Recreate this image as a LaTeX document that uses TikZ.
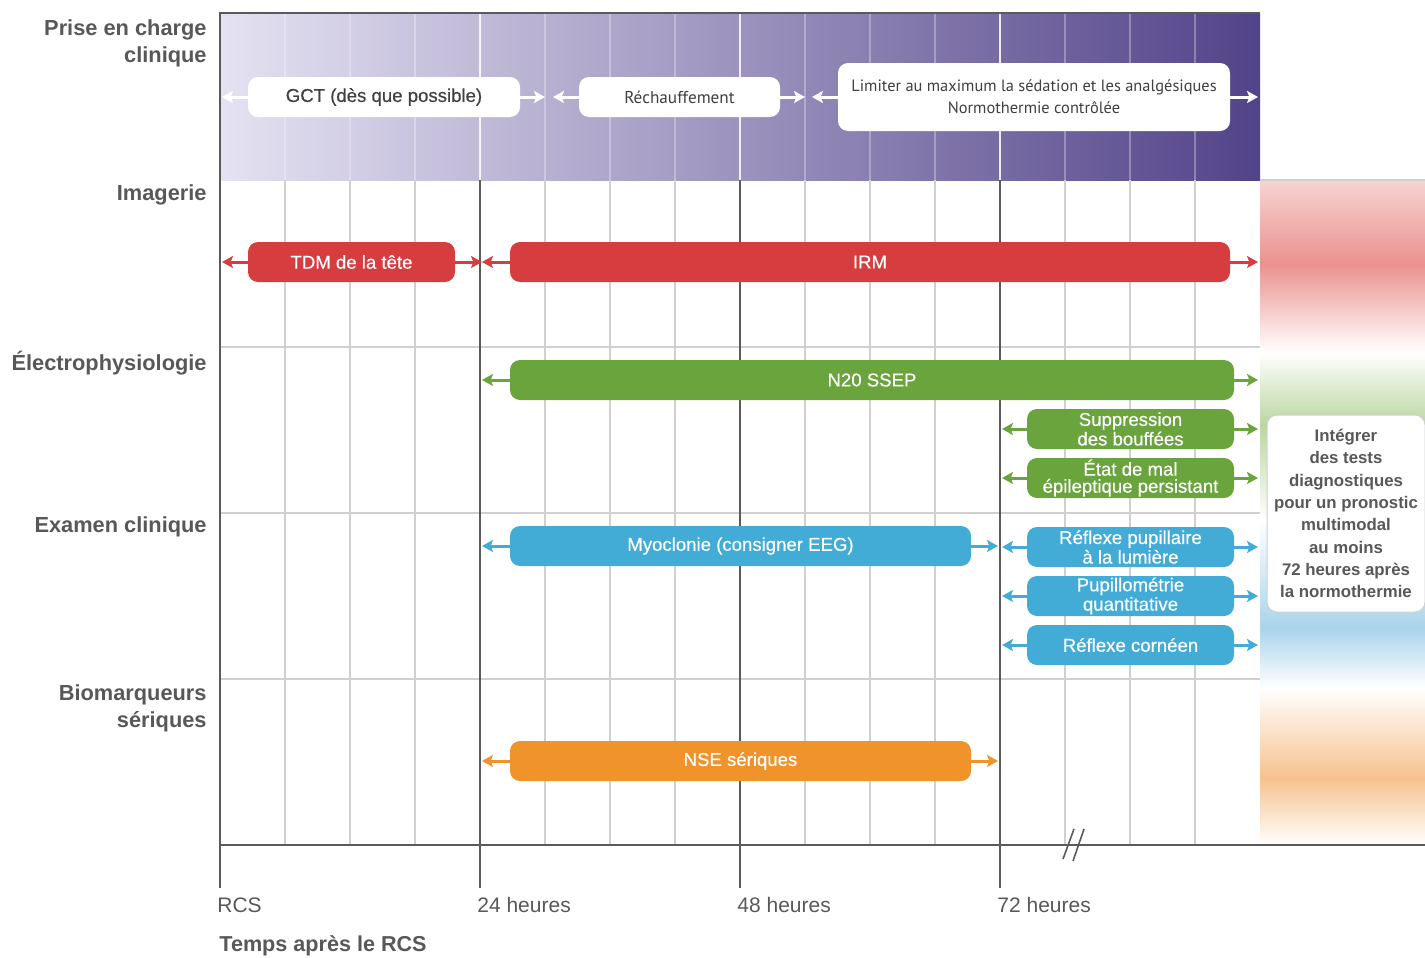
\documentclass[tikz,border=0pt]{standalone}
\usepackage{fontspec}
\setmainfont{Liberation Sans}
\newfontfamily\narrowfont{PT Sans}
\newfontfamily\medfont[FakeBold=0.35]{Liberation Sans}
\usepackage{tikz}
\usetikzlibrary{arrows.meta,positioning}
\usepackage{xcolor}
\definecolor{labgray}   {RGB}{88 , 88, 88}
\definecolor{gridgray}  {RGB}{208,208,208}
\definecolor{axisgray}  {RGB}{90 , 90, 90}
\definecolor{purpL}     {RGB}{229,226,242}
\definecolor{purpR}     {RGB}{82 , 67,137}
\definecolor{barred}    {RGB}{214, 61, 62}
\definecolor{bargreen}  {RGB}{106,164, 60}
\definecolor{barblue}   {RGB}{66 ,172,215}
\definecolor{barorange} {RGB}{240,147, 42}
\definecolor{softred}   {RGB}{234,146,142}
\definecolor{softgreen} {RGB}{186,214,160}
\definecolor{softblue}  {RGB}{170,212,234}
\definecolor{softorange}{RGB}{246,194,142}

\begin{document}
\begin{tikzpicture}[
  x=0.5pt, y=-0.5pt,
  every node/.style={align=center, inner sep=0pt},
  rowlabel/.style={anchor=east, align=right, text=labgray, font=\bfseries\fontsize{10.9}{13.5}\selectfont},
  ticklabel/.style={anchor=west, text=labgray, font=\fontsize{10.5}{12}\selectfont},
  bar/.style={fill=#1, text=white, rounded corners=5pt, minimum height=20pt, font=\medfont\fontsize{9.3}{8.5}\selectfont},
  carebox/.style={fill=white, text=black!75, rounded corners=5pt, minimum height=20pt, font=\medfont\fontsize{9.3}{11}\selectfont},
  span/.style={-{Stealth[length=5.5pt, width=6pt, inset=1.2pt]}, line width=1.5pt, #1},
  minor/.style={gridgray, line width=0.6pt},
  major/.style={axisgray, line width=0.9pt}
]
  \useasboundingbox (0,0) rectangle (1425,958);

  % Background
  \shade[left color=purpL, right color=purpR] (220,13) rectangle (1260,180);
  \shade[top color=softred!40, bottom color=softred] (1260,180) rectangle (1425,264);
  \shade[top color=softred, bottom color=white] (1260,264) rectangle (1425,352);
  \shade[top color=white, bottom color=softgreen] (1260,352) rectangle (1425,425);
  \shade[top color=softgreen, bottom color=white] (1260,425) rectangle (1425,520);
  \shade[top color=white, bottom color=softblue] (1260,520) rectangle (1425,628);
  \shade[top color=softblue, bottom color=white] (1260,628) rectangle (1425,688);
  \shade[top color=white, bottom color=softorange] (1260,688) rectangle (1425,778);
  \shade[top color=softorange, bottom color=white] (1260,778) rectangle (1425,845);

  % Grid
  \foreach \k in {1,...,15} {
    \draw[white, opacity=0.3, line width=0.6pt] (220+65*\k,13) -- (220+65*\k,180);
    \draw[minor] (220+65*\k,180) -- (220+65*\k,845);
  }
  \foreach \y in {347,513,679} \draw[minor] (220,\y) -- (1260,\y);
  \foreach \x in {480,740,1000} {
    \draw[white, opacity=0.8, line width=0.8pt] (\x,13) -- (\x,180);
    \draw[major] (\x,180) -- (\x,888);
  }
  \draw[major] (1260,13) -- (220,13) -- (220,888);
  \draw[minor] (1260,180) -- (1425,180);
  \draw[axisgray, line width=1.1pt] (220,845) -- (1425,845);
  \draw[axisgray, line width=0.8pt] (1063,859) -- (1074,829) (1073,861) -- (1084,829);

  % Arrow ends
  \coordinate (h0)   at (222,0);
  \coordinate (h24)  at (482,0);
  \coordinate (h24b) at (545,0);
  \coordinate (hr)   at (553,0);
  \coordinate (hrb)  at (805,0);
  \coordinate (hl)   at (812,0);
  \coordinate (h48)  at (998,0);
  \coordinate (h72)  at (1002,0);
  \coordinate (hend) at (1258,0);

  % Labels
  \node[rowlabel] (care)  at (207,43)  {Prise en charge\\clinique};
  \node[rowlabel] (imag)  at (207,195) {Imagerie};
  \node[rowlabel] (elec)  at (207,363) {Électrophysiologie};
  \node[rowlabel] (exam)  at (207,527) {Examen clinique};
  \node[rowlabel] (bio)   at (207,708) {Biomarqueurs\\sériques};

  \node[ticklabel] (t0)  at (217,905) {RCS};
  \node[ticklabel] (t24) at (477,905) {24 heures};
  \node[ticklabel] (t48) at (737,905) {48 heures};
  \node[ticklabel] (t72) at (997,905) {72 heures};
  \node[ticklabel, font=\bfseries\fontsize{10.8}{12}\selectfont] (taxis) at (219,946) {Temps après le RCS};

  % Nodes
  \node[carebox, minimum width=136pt] (gct)   at (384,97)    {GCT (dès que possible)};
  \node[carebox, minimum width=100.5pt, font=\narrowfont\fontsize{8.6}{11}\selectfont] (rech) at (679.5,97) {Réchauffement};
  \node[carebox, minimum width=196pt, minimum height=34pt, font=\narrowfont\fontsize{8.2}{11}\selectfont] (limit) at (1034,97)
    {Limiter au maximum la sédation et les analgésiques\\Normothermie contrôlée};

  \node[bar=barred, minimum width=103.5pt] (tdm)  at (351.5,262) {TDM de la tête};
  \node[bar=barred, minimum width=360pt]   (irm)  at (870,262)   {IRM};

  \node[bar=bargreen, minimum width=362pt]   (n20)  at (872,380)    {N20 SSEP};
  \node[bar=bargreen, minimum width=103.5pt] (supp) at (1130.5,429) {Suppression\\des bouffées};
  \node[bar=bargreen, minimum width=103.5pt] (etat) at (1130.5,478) {État de mal\\épileptique persistant};

  \node[bar=barblue, minimum width=230.5pt] (myo)  at (740.5,546)  {Myoclonie (consigner EEG)};
  \node[bar=barblue, minimum width=103.5pt] (rpl)  at (1130.5,547) {Réflexe pupillaire\\à la lumière};
  \node[bar=barblue, minimum width=103.5pt] (pupi) at (1130.5,596) {Pupillométrie\\quantitative};
  \node[bar=barblue, minimum width=103.5pt] (corn) at (1130.5,645) {Réflexe cornéen};

  \node[bar=barorange, minimum width=230.5pt] (nse) at (740.5,761) {NSE sériques};

  \node[fill=white, draw=gridgray, line width=0.5pt, rounded corners=5pt, minimum width=79pt, minimum height=98.5pt,
        text=labgray, font=\bfseries\fontsize{8.4}{11.15}\selectfont] (integ) at (1346,513.5)
    {Intégrer\\des tests\\diagnostiques\\pour un pronostic\\multimodal\\au moins\\72 heures après\\la normothermie};

  % Paths
  \draw[span=white] (gct.west)   -- (gct.west -| h0);
  \draw[span=white] (gct.east)   -- (gct.east -| h24b);
  \draw[span=white] (rech.west)  -- (rech.west -| hr);
  \draw[span=white] (rech.east)  -- (rech.east -| hrb);
  \draw[span=white] (limit.west) -- (limit.west -| hl);
  \draw[span=white] (limit.east) -- (limit.east -| hend);

  \draw[span=barred] (tdm.west) -- (tdm.west -| h0);
  \draw[span=barred] (tdm.east) -- (tdm.east -| h24);
  \draw[span=barred] (irm.west) -- (irm.west -| h24);
  \draw[span=barred] (irm.east) -- (irm.east -| hend);

  \foreach \b in {n20} {
    \draw[span=bargreen] (\b.west) -- (\b.west -| h24);
    \draw[span=bargreen] (\b.east) -- (\b.east -| hend);
  }
  \foreach \b in {supp,etat} {
    \draw[span=bargreen] (\b.west) -- (\b.west -| h72);
    \draw[span=bargreen] (\b.east) -- (\b.east -| hend);
  }
  \draw[span=barblue] (myo.west) -- (myo.west -| h24);
  \draw[span=barblue] (myo.east) -- (myo.east -| h48);
  \foreach \b in {rpl,pupi,corn} {
    \draw[span=barblue] (\b.west) -- (\b.west -| h72);
    \draw[span=barblue] (\b.east) -- (\b.east -| hend);
  }
  \draw[span=barorange] (nse.west) -- (nse.west -| h24);
  \draw[span=barorange] (nse.east) -- (nse.east -| h48);
\end{tikzpicture}
\end{document}
